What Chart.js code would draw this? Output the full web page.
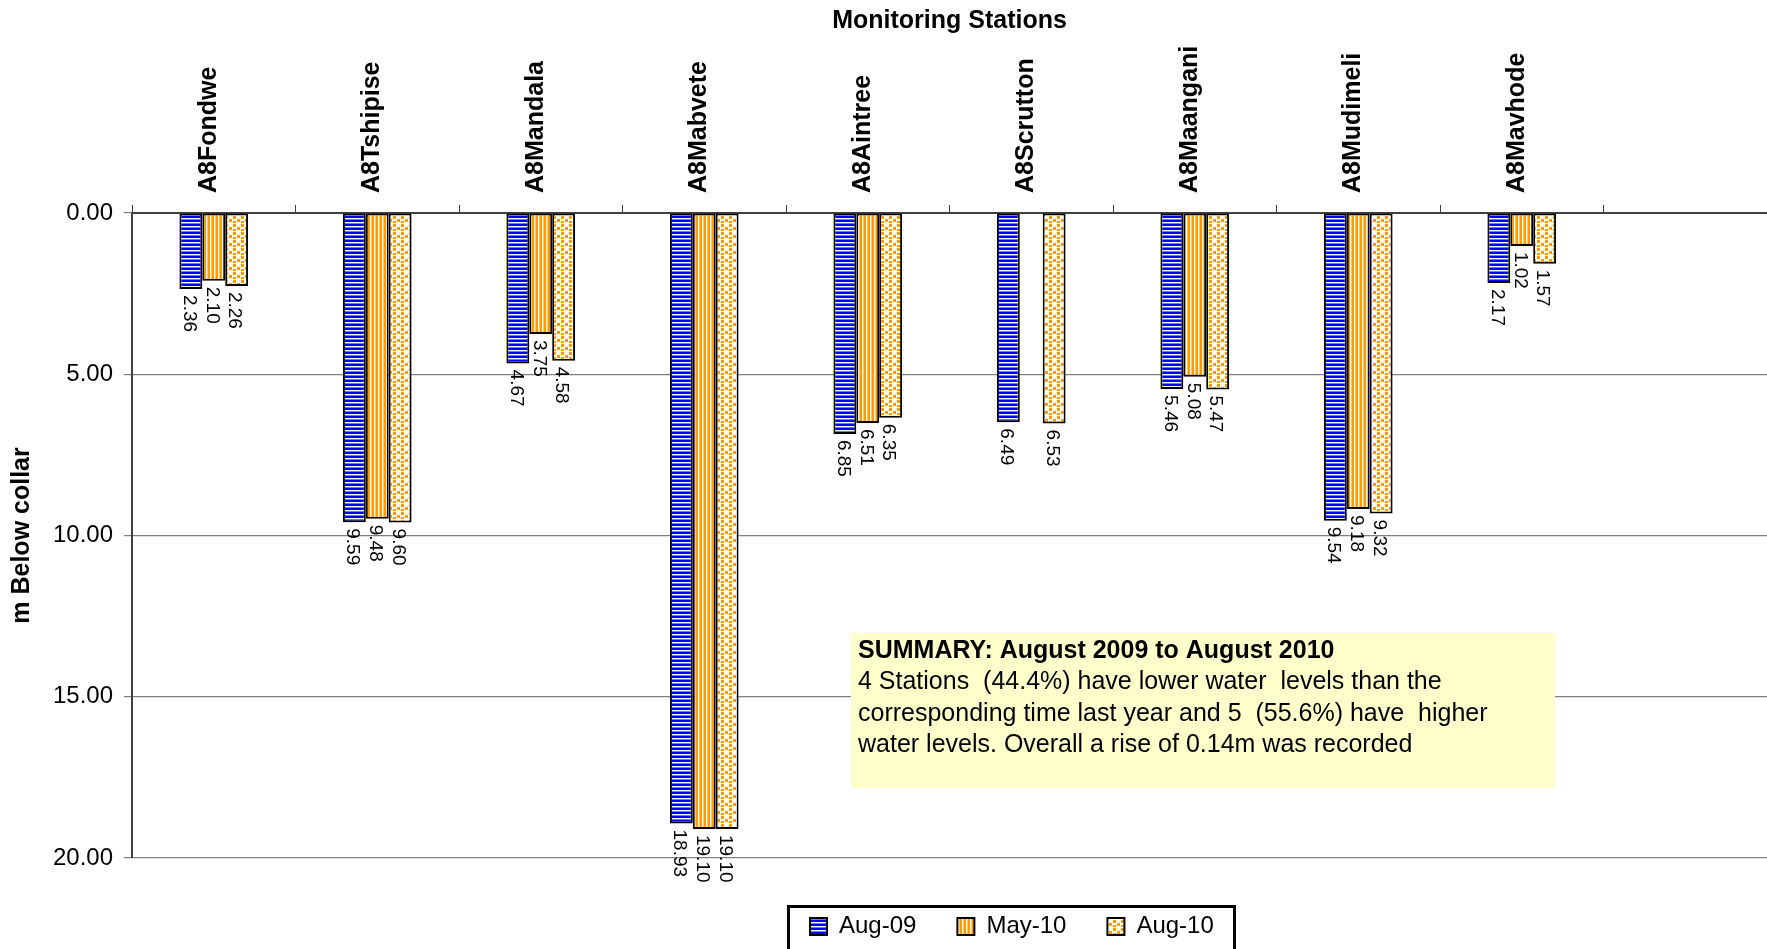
<!DOCTYPE html>
<html>
<head>
<meta charset="utf-8">
<title>Monitoring Stations</title>
<script src="https://cdn.jsdelivr.net/npm/chart.js@4.4.1/dist/chart.umd.min.js"></script>
<style>
    body { margin: 0; background: #fff; }
    canvas { display: block; }
</style>
</head>
<body>
<canvas id="grafico-niveis" width="1767" height="949"></canvas>
<script>
const stations = ['A8Fondwe', 'A8Tshipise', 'A8Mandala', 'A8Mabvete', 'A8Aintree', 'A8Scrutton', 'A8Maangani', 'A8Mudimeli', 'A8Mavhode', ''];
const aug09 = [2.36, 9.59, 4.67, 18.93, 6.85, 6.49, 5.46, 9.54, 2.17, null];
const may10 = [2.10, 9.48, 3.75, 19.10, 6.51, null, 5.08, 9.18, 1.02, null];
const aug10 = [2.26, 9.60, 4.58, 19.10, 6.35, 6.53, 5.47, 9.32, 1.57, null];
const seriesNames = ['Aug-09', 'May-10', 'Aug-10'];
const depthTicks = [0, 5, 10, 15, 20];

const summaryTitle = 'SUMMARY: August 2009 to August 2010';
const summaryLines = [
    '4 Stations  (44.4%) have lower water  levels than the',
    'corresponding time last year and 5  (55.6%) have  higher',
    'water levels. Overall a rise of 0.14m was recorded'
];

const canvas = document.getElementById('grafico-niveis');
const ctx = canvas.getContext('2d');
const fontFamily = '"Liberation Sans", Arial, Helvetica, sans-serif';

Chart.defaults.font.family = fontFamily;
Chart.defaults.color = '#000';

function makePattern(size, draw) {
    const tile = document.createElement('canvas');
    tile.width = size;
    tile.height = size;
    draw(tile.getContext('2d'));
    return ctx.createPattern(tile, 'repeat');
}

// blue horizontal stripes
const bluePattern = makePattern(4, g => {
    g.fillStyle = '#ffffff';
    g.fillRect(0, 0, 4, 4);
    g.fillStyle = '#0000ff';
    g.fillRect(0, 0, 4, 2);
    g.fillStyle = '#7373ff';
    g.fillRect(0, 3, 4, 1);
});

// orange vertical stripes
const orangePattern = makePattern(4, g => {
    g.fillStyle = '#ffffff';
    g.fillRect(0, 0, 4, 4);
    g.fillStyle = '#ff9900';
    g.fillRect(0, 0, 2, 4);
    g.fillStyle = '#ffc56e';
    g.fillRect(3, 0, 1, 4);
});

// orange dots on white
const dotPattern = makePattern(8, g => {
    g.fillStyle = '#ffffff';
    g.fillRect(0, 0, 8, 8);
    g.fillStyle = '#ff9900';
    g.fillRect(1, 0, 3, 3);
    g.fillRect(5, 3, 3, 3);
    g.fillRect(1, 5, 3, 2);
});

// value labels, rotated, under the end of each bar
const valueLabels = {
    id: 'valueLabels',
    afterDatasetsDraw(chart) {
        const c = chart.ctx;
        c.save();
        c.font = '19px ' + fontFamily;
        c.fillStyle = '#000';
        c.textAlign = 'left';
        c.textBaseline = 'middle';
        chart.data.datasets.forEach((ds, i) => {
            chart.getDatasetMeta(i).data.forEach((bar, j) => {
                const v = ds.data[j];
                if (v === null || v === undefined) return;
                c.save();
                c.translate(bar.x - 2, bar.y + 6);
                c.rotate(Math.PI / 2);
                c.fillText(v.toFixed(2), 0, 0);
                c.restore();
            });
        });
        c.restore();
    }
};

// legend placement + frame, summary box
const extras = {
    id: 'extras',
    beforeInit(chart) {
        const legend = chart.legend;
        const fit = legend.fit;
        legend.fit = function () {
            fit.call(this);
            this.height = 91;
        };
    },
    afterLayout(chart) {
        const legend = chart.legend;
        legend.left = 769;
        legend.right = 1767;
        legend.top = 873.5;
        legend.bottom = 949;
    },
    afterDraw(chart) {
        const c = chart.ctx;
        c.save();
        c.strokeStyle = '#000';
        c.lineWidth = 3;
        c.strokeRect(788.5, 906.5, 446, 60);

        c.fillStyle = '#ffffcc';
        c.fillRect(851, 633, 704, 155);
        c.fillStyle = '#000';
        c.textAlign = 'left';
        c.textBaseline = 'middle';
        c.font = 'bold 25px ' + fontFamily;
        c.fillText(summaryTitle, 858, 651);
        c.font = '25px ' + fontFamily;
        summaryLines.forEach((linha, i) => {
            c.fillText(linha, 858, 682.5 + i * 31.5);
        });
        c.restore();
    }
};

const chart = new Chart(ctx, {
    type: 'bar',
    data: {
        labels: stations,
        datasets: [
            { label: seriesNames[0], data: aug09, backgroundColor: bluePattern },
            { label: seriesNames[1], data: may10, backgroundColor: orangePattern },
            { label: seriesNames[2], data: aug10, backgroundColor: dotPattern }
        ].map(ds => Object.assign(ds, {
            borderColor: '#000',
            borderWidth: 2,
            borderSkipped: false,
            categoryPercentage: 0.42,
            barPercentage: 1
        }))
    },
    options: {
        responsive: false,
        animation: false,
        events: [],
        layout: { padding: 0 },
        scales: {
            x: {
                position: 'top',
                afterFit: scale => { scale.height = 177; },
                grid: {
                    drawOnChartArea: false,
                    drawTicks: true,
                    tickLength: 8,
                    color: '#404040',
                    offset: true
                },
                border: { display: true, color: '#404040', width: 2 },
                ticks: {
                    autoSkip: false,
                    minRotation: 90,
                    maxRotation: 90,
                    padding: 12,
                    labelOffset: 25,
                    color: '#000',
                    font: { size: 25, weight: 'bold' }
                }
            },
            y: {
                reverse: true,
                min: 0,
                max: 20,
                afterFit: scale => { scale.width = 132; },
                afterBuildTicks: scale => {
                    scale.ticks = depthTicks.map(v => ({ value: v }));
                },
                grid: {
                    color: '#808080',
                    lineWidth: 1.2,
                    drawTicks: true,
                    tickLength: 8
                },
                border: { display: true, color: '#404040', width: 2 },
                ticks: {
                    padding: 11,
                    color: '#000',
                    font: { size: 24 },
                    callback: v => Number(v).toFixed(2)
                },
                title: {
                    display: true,
                    text: 'm Below collar',
                    color: '#000',
                    padding: { top: 7, bottom: 0 },
                    font: { size: 25, weight: 'bold' }
                }
            }
        },
        plugins: {
            title: {
                display: true,
                fullSize: false,
                text: 'Monitoring Stations',
                color: '#000',
                padding: { top: 6, bottom: 0 },
                font: { size: 25, weight: 'bold', lineHeight: 1.2 }
            },
            legend: {
                position: 'bottom',
                align: 'start',
                labels: {
                    color: '#000',
                    boxWidth: 17,
                    boxHeight: 17,
                    padding: 41,
                    font: { size: 24 }
                }
            },
            tooltip: { enabled: false }
        }
    },
    plugins: [valueLabels, extras]
});
</script>
</body>
</html>
